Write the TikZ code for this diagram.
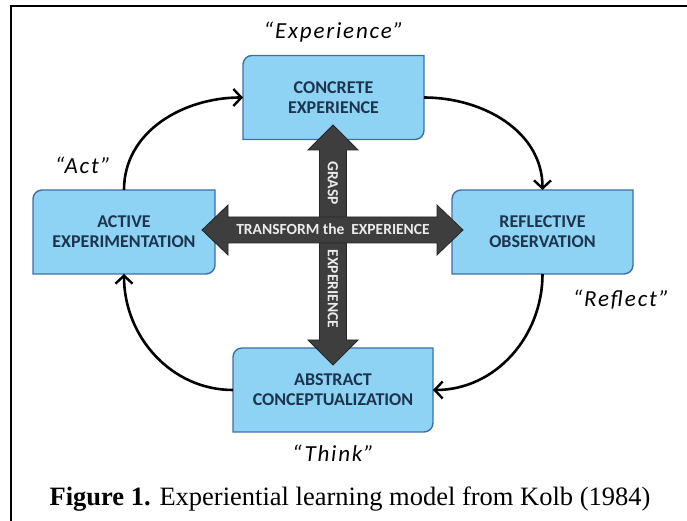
\documentclass[tikz,border=0pt]{standalone}
\usepackage{fontspec}
\usepackage{tikz}
\usetikzlibrary{arrows.meta,backgrounds,positioning}
\setmainfont{Liberation Serif}
\newfontfamily\boxfont{Carlito}
\newfontfamily\handfont{Carlito}[LetterSpace=8]
\definecolor{boxfillcolor}{RGB}{142,211,244}
\definecolor{boxlinecolor}{RGB}{62,110,168}
\definecolor{boxtextcolor}{RGB}{28,52,78}
\definecolor{crosscolor}{RGB}{62,62,62}

\tikzset{
    kbox/.style={minimum width=181pt,minimum height=84pt,inner sep=0pt,outer sep=0pt,
        align=center,text=boxtextcolor,font=\boxfont\bfseries\fontsize{18}{20}\selectfont},
    kboxline/.style={fill=boxfillcolor,draw=boxlinecolor,line width=1.4pt},
    cross/.style={fill=crosscolor,draw=black!85,line width=0.8pt},
    crosstext/.style={text=black!8,font=\boxfont\bfseries\fontsize{15.5}{17}\selectfont,inner sep=0pt},
    cycle/.style={line width=2.6pt,-{Straight Barb[length=8pt,width=17pt,line width=2.4pt]}},
    quote/.style={font=\handfont\itshape\fontsize{23}{25}\selectfont,inner sep=0pt}
}

\begin{document}
\begin{tikzpicture}[x=1pt,y=1pt]
    \useasboundingbox (0,0) rectangle (687,521);
    \draw[line width=2pt] (11,0) -- (11,515) -- (687,515);

    \node[kbox] (ce) at (333.5,423.5) {CONCRETE\\EXPERIENCE};
    \node[kbox,minimum width=182pt] (ae) at (124,289) {ACTIVE\\EXPERIMENTATION};
    \node[kbox] (ro) at (542.5,289) {REFLECTIVE\\OBSERVATION};
    \node[kbox,minimum width=200pt] (ac) at (333,131) {ABSTRACT\\CONCEPTUALIZATION};

    \begin{scope}[on background layer]
        \foreach \n in {ce,ae,ro,ac}
            \draw[kboxline] (\n.south west) -- ([yshift=-9pt]\n.north west)
                arc[start angle=180,end angle=90,radius=9pt] -- (\n.north east)
                -- ([yshift=9pt]\n.south east)
                arc[start angle=0,end angle=-90,radius=9pt] -- cycle;
    \end{scope}

    \draw[cycle] (ae.north) to[out=90,in=180] (ce.west);
    \draw[cycle] (ce.east) to[out=0,in=90] (ro.north);
    \draw[cycle] (ro.south) to[out=-90,in=0] (ac.east);
    \draw[cycle] (ac.west) to[out=180,in=-90] (ae.south);

    \draw[cross] (333,396) -- (358,371) -- (346.5,371) -- (346.5,181) -- (358,181) -- (333,156)
        -- (308,181) -- (319.5,181) -- (319.5,371) -- (308,371) -- cycle;
    \draw[cross] (202,291) -- (228,316) -- (228,304) -- (437,304) -- (437,316) -- (463,291)
        -- (437,266) -- (437,278) -- (228,278) -- (228,266) -- cycle;
    \node[crosstext] (transform) at (333,292) {TRANSFORM the\ \ EXPERIENCE};
    \node[crosstext,rotate=-90] (grasp) at (333,338) {GRASP};
    \node[crosstext,rotate=-90] (experience) at (333,232) {EXPERIENCE};

    \node[quote] (lexperience) [above=13pt of ce] {“Experience”};
    \node[quote] (lact) at (83,356) {“Act”};
    \node[quote] (lreflect) at (621,221) {“Reflect”};
    \node[quote] (lthink) [below=13pt of ac] {“Think”};

    \node[font=\fontsize{26.5}{28}\selectfont,inner sep=0pt] (caption) at (350,22)
        {\textbf{Figure 1.} Experiential learning model from Kolb (1984)};
\end{tikzpicture}
\end{document}
